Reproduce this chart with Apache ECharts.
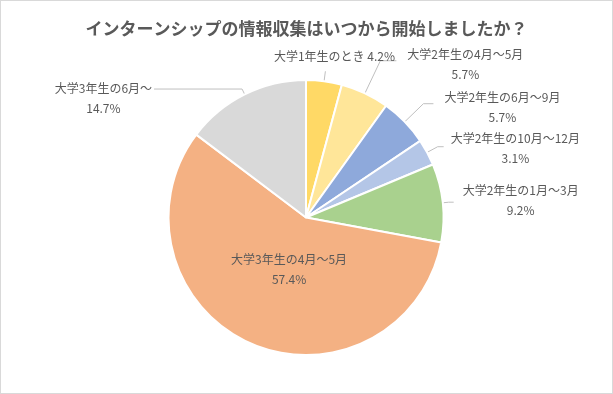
<!DOCTYPE html>
<html><head><meta charset="utf-8">
<script src="https://cdn.jsdelivr.net/npm/echarts@6/dist/echarts.min.js"></script>
<style>
html,body{margin:0;padding:0;background:#fff;}
#frame{position:absolute;left:0;top:0;width:611px;height:392px;border:1px solid #d9d9d9;}
#main{position:absolute;left:0;top:0;width:613px;height:394px;}
</style></head>
<body><div id="frame"></div><div id="main"></div>
<script>
const title = 'インターンシップの情報収集はいつから開始しましたか？';
const categories = ['大学1年生のとき','大学2年生の4月～5月','大学2年生の6月～9月','大学2年生の10月～12月','大学2年生の1月～3月','大学3年生の4月～5月','大学3年生の6月～'];
const values = [4.2, 5.7, 5.7, 3.1, 9.2, 57.4, 14.7];
const colors = ['#FFD966','#FFE699','#8EA9DB','#B4C6E7','#A9D18E','#F4B183','#D9D9D9'];

// label-line styling (lengths in px) and label nudges
const lineLen = [10, 36, 26, 12, 6, 2, 6];
const lineLen2 = [0, 16, 10, 6, 5, 0, 88];
const labelDist = [4, 9, 9, 7, 9, 0, 2];
const nudgeX = [5, 2, 2, 0, 0, 0, 0];
const nudgeY = [-15, 4, 4, 2, -2, 0, 9];

const FONT = 'Noto Sans CJK JP';

const data = categories.map((c, i) => {
  const item = {
    name: c, value: values[i],
    itemStyle: { color: colors[i] },
    labelLine: { length: lineLen[i], length2: lineLen2[i] },
    label: { distanceToLabelLine: labelDist[i] }
  };
  if (i === 0) {
    item.label.formatter = '{b} {c}%';
  }
  if (i === 5) {
    item.label.position = 'inside';
    item.label.offset = [12, -14];
  }
  return item;
});

const chart = echarts.init(document.getElementById('main'), null, {renderer: 'canvas'});
chart.setOption({
  animation: false,
  title: {
    text: title, left: 'center', top: 15,
    textStyle: { fontFamily: FONT, fontSize: 17, fontWeight: 'bold', color: '#595959' }
  },
  series: [{
    type: 'pie',
    center: [306, 217.5],
    radius: 137.5,
    startAngle: 90,
    clockwise: true,
    avoidLabelOverlap: false,
    itemStyle: { borderColor: '#fff', borderWidth: 2 },
    label: {
      show: true, position: 'outside', alignTo: 'none',
      formatter: '{b}\n{c}%',
      fontFamily: FONT, fontSize: 12, color: '#595959', lineHeight: 20
    },
    labelLine: { show: true, lineStyle: { color: '#bfbfbf', width: 1 } },
    labelLayout: function (p) {
      const i = p.dataIndex;
      if (i === 5) return { hideOverlap: false };
      const r = p.labelRect;
      const cx = (i === 0) ? r.x : r.x + r.width / 2;
      return {
        hideOverlap: false,
        x: cx + nudgeX[i],
        y: r.y + r.height / 2 + nudgeY[i],
        align: 'center', verticalAlign: 'middle',
        labelLinePoints: p.labelLinePoints
      };
    },
    emphasis: { disabled: true },
    data: data
  }]
});
</script></body></html>
